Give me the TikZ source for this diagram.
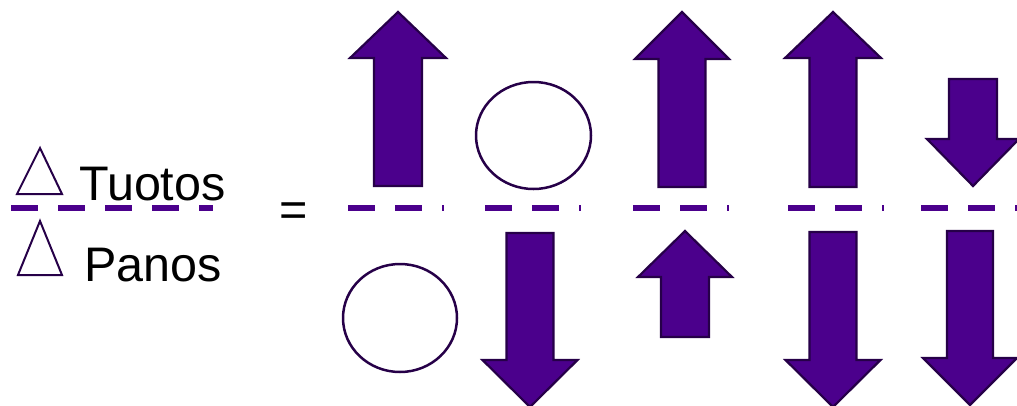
\documentclass[tikz,border=0pt]{standalone}
\usepackage{fontspec}
\setmainfont{Liberation Sans}
\usepackage{xcolor}
\usepackage{tikz}
\definecolor{vi}{RGB}{75,0,140}
\definecolor{tu}{RGB}{38,0,72}
% block arrow: centre x, tip y, head base y, tail y, half shaft, half head
\newcommand{\BlokNuoli}[6]{%
  \draw[nuoli] (#1,#2) -- (#1+#6,#3) -- (#1+#5,#3) -- (#1+#5,#4)
    -- (#1-#5,#4) -- (#1-#5,#3) -- (#1-#6,#3) -- cycle;}

\begin{document}
\begin{tikzpicture}[x=1pt,y=-1pt,
  nuoli/.style={fill=vi,draw=tu,line width=2.2pt,line join=miter},
  viiva/.style={draw=vi,line width=6pt,dash pattern=on 27pt off 20pt},
  rengas/.style={draw=tu,line width=2.5pt},
  kolmio/.style={draw=tu,line width=2pt,line join=miter},
  teksti/.style={inner sep=0pt,font=\fontsize{48.5}{54}\selectfont}]
  \useasboundingbox (0,0) rectangle (1017,405);

  % left: fraction
  \draw[kolmio] (40,148) -- (62,194) -- (17,194) -- cycle;
  \draw[kolmio] (40,221) -- (62,275) -- (18,275) -- cycle;
  \node[teksti,anchor=base west] (tuotos) at (79,200) {Tuotos};
  \node[teksti,anchor=base west] (panos) at (84,281) {Panos};
  \draw[viiva] (11,208) -- (213,208);
  \node[teksti] (yht) at (294,215) {=};

  % dashed dividers
  \foreach \xa in {348,485,633,788,921}
    \draw[viiva] (\xa,208) -- (\xa+96,208);

  % circles
  \draw[rengas] (533.5,135.5) ellipse [x radius=57.5, y radius=53.5];
  \draw[rengas] (400,318) ellipse [x radius=57, y radius=54];

  % top row
  \BlokNuoli{398}{12}{58}{186}{24}{48}
  \BlokNuoli{682}{12}{59}{187}{23.5}{47}
  \BlokNuoli{833}{12}{58}{187}{23.5}{48}
  \BlokNuoli{973}{186}{139}{79}{24}{46}

  % bottom row
  \BlokNuoli{530}{407}{360}{233}{23.5}{47.5}
  \BlokNuoli{685}{231}{277}{337}{24}{47}
  \BlokNuoli{833}{407}{360}{232}{23.5}{47.5}
  \BlokNuoli{970}{405}{358}{231}{23}{47}
\end{tikzpicture}
\end{document}
